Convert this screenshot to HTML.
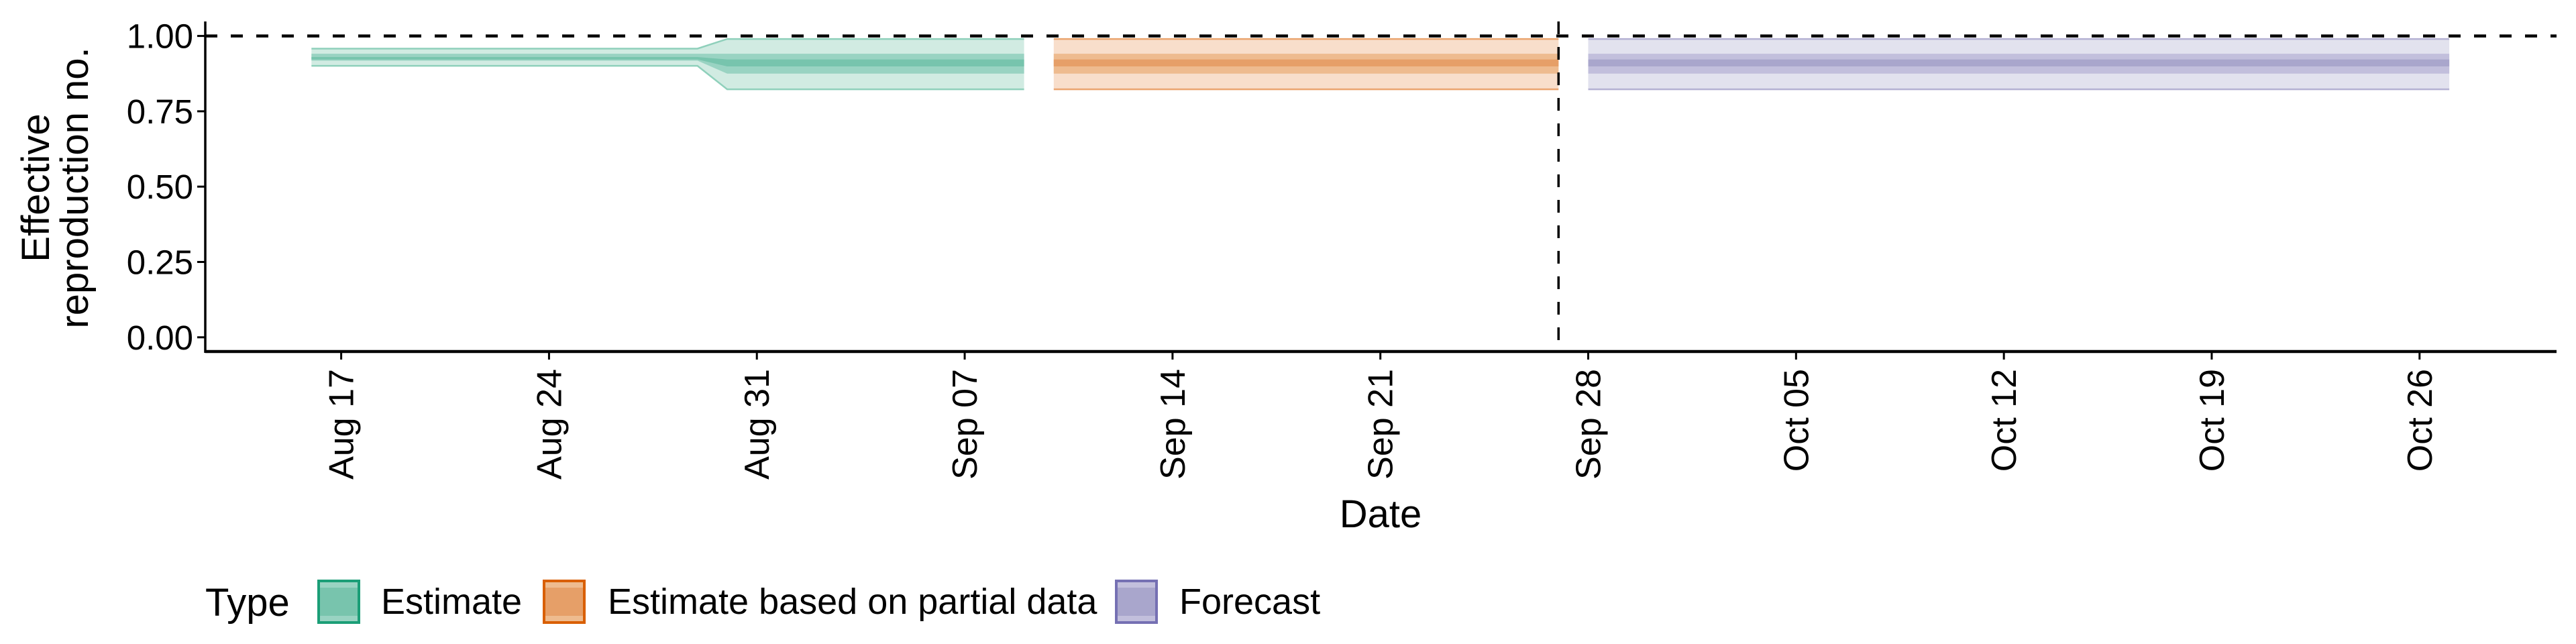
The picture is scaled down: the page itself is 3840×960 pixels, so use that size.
<!DOCTYPE html>
<html><head><meta charset="utf-8"><style>
html,body{margin:0;padding:0;background:#fff;}
svg{display:block;font-family:"Liberation Sans",sans-serif;}
</style></head><body>
<svg id="chart" width="3840" height="960" viewBox="0 0 3840 960" xmlns="http://www.w3.org/2000/svg">
<g id="bands"></g>
<g id="axes"></g>
<text transform="translate(73,280) rotate(-90)" font-size="58" text-anchor="middle">Effective</text>
<text transform="translate(131,280) rotate(-90)" font-size="58" text-anchor="middle">reproduction no.</text>
<text x="2058" y="786" font-size="58" text-anchor="middle">Date</text>
<g>
<text x="306" y="918" font-size="58">Type</text>
<g>
<rect x="475" y="866" width="60" height="62" fill="#99d3c2" stroke="#1b9e77" stroke-width="4"/>
<rect x="477" y="876" width="56" height="42" fill="#78c4ad"/>
<text x="568" y="915" font-size="54">Estimate</text></g>
<g>
<rect x="811" y="866" width="60" height="62" fill="#eebb8f" stroke="#d95f02" stroke-width="4"/>
<rect x="813" y="876" width="56" height="42" fill="#e69f68"/>
<text x="906" y="915" font-size="54">Estimate based on partial data</text></g>
<g>
<rect x="1664" y="866" width="60" height="62" fill="#c2bfdc" stroke="#7570b3" stroke-width="4"/>
<rect x="1666" y="876" width="56" height="42" fill="#a9a6cc"/>
<text x="1758" y="915" font-size="54">Forecast</text></g>
</g>
</svg>
<script>
// day offsets relative to Aug 17
const estDays = [-1, 12, 13, 23];
const estLo90 = [0.901, 0.901, 0.823, 0.823];
const estHi90 = [0.958, 0.958, 0.990, 0.990];
const estLo50 = [0.918, 0.918, 0.875, 0.875];
const estHi50 = [0.941, 0.941, 0.941, 0.941];
const estLo20 = [0.922, 0.922, 0.899, 0.899];
const estHi20 = [0.930, 0.930, 0.922, 0.922];
const partDays = [24, 41];
const partLo90 = [0.823, 0.823];
const partHi90 = [0.990, 0.990];
const partLo50 = [0.875, 0.875];
const partHi50 = [0.941, 0.941];
const partLo20 = [0.899, 0.899];
const partHi20 = [0.922, 0.922];
const fcDays = [42, 71];
const fcLo90 = [0.823, 0.823];
const fcHi90 = [0.990, 0.990];
const fcLo50 = [0.875, 0.875];
const fcHi50 = [0.941, 0.941];
const fcLo20 = [0.899, 0.899];
const fcHi20 = [0.922, 0.922];
const xTickDays = [0, 7, 14, 21, 28, 35, 42, 49, 56, 63, 70];
const xTickLabels = ["Aug 17","Aug 24","Aug 31","Sep 07","Sep 14","Sep 21","Sep 28","Oct 05","Oct 12","Oct 19","Oct 26"];
const yTicks = [0, 0.25, 0.5, 0.75, 1.0];
const yTickLabels = ["0.00","0.25","0.50","0.75","1.00"];
const refY = 1.0;
const forecastStartDay = 41;

const X0 = 508.6, DAY = 44.26;
const x = d => X0 + d * DAY;
const y = v => 502.8 - 449.2 * v;
const PL = 306, PR = 3811, PT = 32, PB = 524;
const NS = "http://www.w3.org/2000/svg";
const bands = document.getElementById('bands');
const axes = document.getElementById('axes');
function mk(tag, attrs, parent){const e=document.createElementNS(NS,tag);for(const k in attrs)e.setAttribute(k,attrs[k]);parent.appendChild(e);return e;}
function ribbon(days, lo, hi, fill, stroke, name){
  let pts=[];
  for(let i=0;i<days.length;i++)pts.push(x(days[i]).toFixed(1)+','+y(hi[i]).toFixed(1));
  for(let i=days.length-1;i>=0;i--)pts.push(x(days[i]).toFixed(1)+','+y(lo[i]).toFixed(1));
  const p=mk('polygon',{points:pts.join(' '),fill:fill},bands);
  
  
  if(stroke){
    const l1=days.map((d,i)=>x(d).toFixed(1)+','+y(hi[i]).toFixed(1)).join(' ');
    const l2=days.map((d,i)=>x(d).toFixed(1)+','+y(lo[i]).toFixed(1)).join(' ');
    mk('polyline',{points:l1,fill:'none',stroke:stroke,'stroke-width':2.5},bands);
    mk('polyline',{points:l2,fill:'none',stroke:stroke,'stroke-width':2.5},bands);
  }
}
ribbon(estDays,estLo90,estHi90,'#d1ebe2','#8fd0bb','estimate-90');
ribbon(estDays,estLo50,estHi50,'#99d3c2',null,'estimate-50');
ribbon(estDays,estLo20,estHi20,'#77c4ad',null,'estimate-20');
ribbon(partDays,partLo90,partHi90,'#f8decb','#eaa46f','partial-90');
ribbon(partDays,partLo50,partHi50,'#eebb8f',null,'partial-50');
ribbon(partDays,partLo20,partHi20,'#e69f68',null,'partial-20');
ribbon(fcDays,fcLo90,fcHi90,'#e2e2ee','#b4b1d3','forecast-90');
ribbon(fcDays,fcLo50,fcHi50,'#c2bfdc',null,'forecast-50');
ribbon(fcDays,fcLo20,fcHi20,'#a9a6cc',null,'forecast-20');

const h=mk('line',{x1:PL,x2:PR,y1:y(refY),y2:y(refY),stroke:'#000','stroke-width':4.5,'stroke-dasharray':'18 20'},axes);


const v=mk('line',{x1:x(forecastStartDay),x2:x(forecastStartDay),y1:PT,y2:PB,stroke:'#000','stroke-width':3.5,'stroke-dasharray':'19 19'},axes);


const ya=mk('line',{x1:PL,x2:PL,y1:PT,y2:PB+2,stroke:'#000','stroke-width':3.5},axes);


const xa=mk('line',{x1:PL,x2:PR,y1:PB,y2:PB,stroke:'#000','stroke-width':4.5},axes);


yTicks.forEach((t,i)=>{
  mk('line',{x1:PL-12,x2:PL,y1:y(t),y2:y(t),stroke:'#000','stroke-width':3},axes);
  const tx=mk('text',{x:PL-18,y:y(t)+18,'font-size':51,'text-anchor':'end'},axes);
  tx.textContent=yTickLabels[i];
  
  
});
xTickDays.forEach((d,i)=>{
  mk('line',{x1:x(d),x2:x(d),y1:PB,y2:PB+12,stroke:'#000','stroke-width':3},axes);
  const tx=mk('text',{transform:`translate(${(x(d)+18).toFixed(1)},550) rotate(-90)`,'font-size':52,'text-anchor':'end'},axes);
  tx.textContent=xTickLabels[i];
  
  
});
</script>
</body></html>
